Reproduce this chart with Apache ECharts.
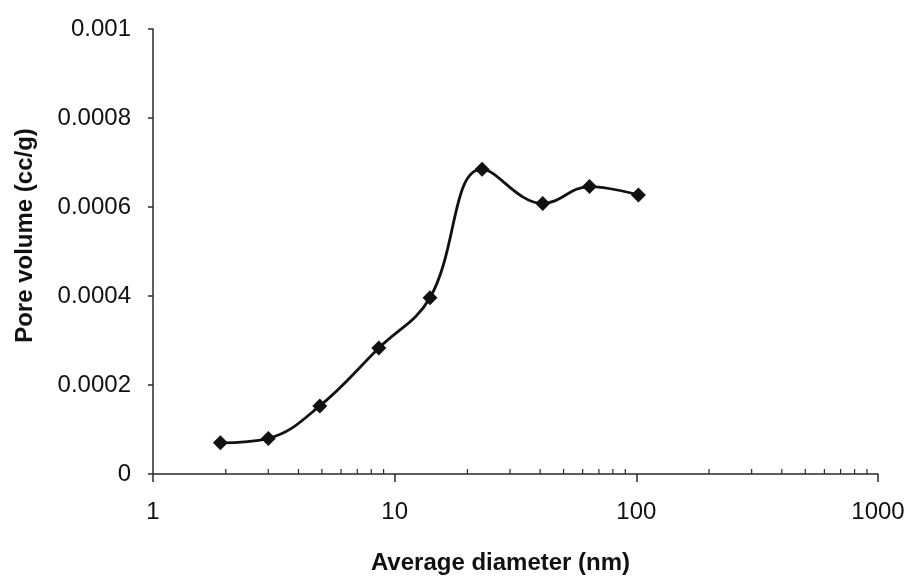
<!DOCTYPE html>
<html>
<head>
<meta charset="utf-8">
<script src="https://cdn.jsdelivr.net/npm/echarts@6/dist/echarts.min.js"></script>
<style>
html,body{margin:0;padding:0;background:#fff;}
#chart{width:910px;height:581px;}
</style>
</head>
<body>
<div id="chart"></div>
<script>
// Data
const diameters = [1.9, 3.0, 4.9, 8.6, 14, 23, 41, 64, 102];
const poreVolumes = [0.00007, 0.00008, 0.000153, 0.000283, 0.000396, 0.000685, 0.000608, 0.000646, 0.000627];
const minorTickValues = [2,3,4,5,6,7,8,9,20,30,40,50,60,70,80,90,200,300,400,500,600,700,800,900];
const xTickLabels = {1: '1', 10: '10', 100: '100', 1000: '1000'};
const xTitle = 'Average diameter (nm)';
const yTitle = 'Pore volume (cc/g)';

const chart = echarts.init(document.getElementById('chart'), null, {renderer: 'canvas'});
const textColor = '#111';
const axisColor = '#2a2a2a';

chart.setOption({
  backgroundColor: '#ffffff',
  animation: false,
  grid: {left: 153, right: 32, top: 29, bottom: 107, containLabel: false},
  xAxis: {
    type: 'log',
    logBase: 10,
    min: 1,
    max: 1000,
    name: xTitle,
    nameLocation: 'middle',
    nameGap: 77,
    nameTextStyle: {fontFamily: 'Liberation Sans', fontWeight: 'bold', fontSize: 24, color: textColor, padding: [0, 30, 0, 0]},
    axisLine: {show: true, lineStyle: {color: axisColor, width: 1.5}},
    axisTick: {show: true, inside: false, length: 8, lineStyle: {color: axisColor, width: 1.5}},
    minorTick: {show: false},
    splitLine: {show: false},
    axisLabel: {
      fontFamily: 'Liberation Sans', fontSize: 24, color: textColor, margin: 26,
      formatter: function (v) { const k = Math.round(v); return xTickLabels[k] !== undefined ? xTickLabels[k] : String(k); }
    }
  },
  yAxis: {
    type: 'value',
    min: 0,
    max: 0.001,
    interval: 0.0002,
    name: yTitle,
    nameLocation: 'middle',
    nameGap: 116,
    nameTextStyle: {fontFamily: 'Liberation Sans', fontWeight: 'bold', fontSize: 24, color: textColor, padding: [0, 0, 0, 32]},
    axisLine: {show: true, lineStyle: {color: axisColor, width: 1.5}},
    axisTick: {show: true, inside: false, length: 5, lineStyle: {color: axisColor, width: 1.5}},
    splitLine: {show: false},
    axisLabel: {fontFamily: 'Liberation Sans', fontSize: 24, color: textColor, margin: 22}
  },
  series: [
    {
      type: 'custom',
      silent: true,
      clip: false,
      z: 1,
      data: minorTickValues.map(v => [v, 0]),
      renderItem: function (params, api) {
        const p = api.coord([api.value(0), 0]);
        return {
          type: 'line',
          shape: {x1: p[0], y1: p[1], x2: p[0], y2: p[1] - 5},
          style: {stroke: axisColor, lineWidth: 1.2}
        };
      }
    },
    {
      type: 'line',
      data: diameters.map((d, i) => [d, poreVolumes[i]]),
      smooth: 0.4,
      symbol: 'diamond',
      symbolSize: 15,
      showAllSymbol: true,
      lineStyle: {color: '#111', width: 2.8},
      itemStyle: {color: '#111'},
      z: 3
    }
  ]
});
</script>
</body>
</html>
